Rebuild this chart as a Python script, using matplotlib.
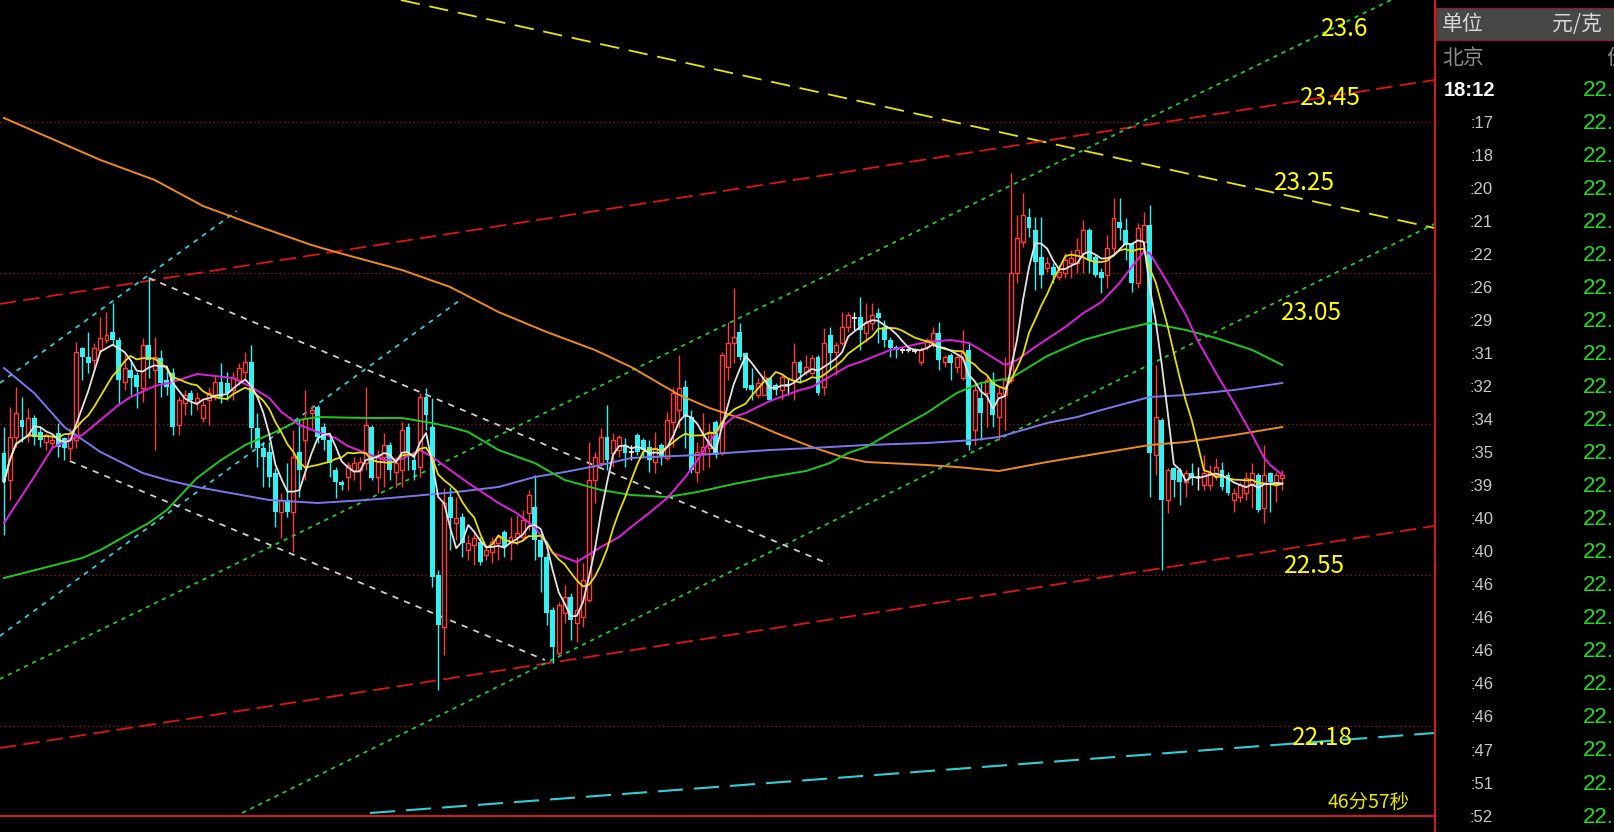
import numpy as np
import pandas as pd
import matplotlib
matplotlib.use("Agg")
import matplotlib.pyplot as plt
from matplotlib.patches import Rectangle
from matplotlib.lines import Line2D

plt.rcParams['font.family'] = ['Noto Sans CJK SC', 'DejaVu Sans']
plt.rcParams['lines.scale_dashes'] = False

# ---------------- candle data (price, yuan/gram) ----------------
opens = [
    22.894, 22.840, 22.926, 22.960, 22.930, 22.964, 22.936, 22.916, 22.914, 22.934,
    22.924, 22.904, 22.920, 23.104, 23.086, 23.080, 23.100, 23.120, 23.136, 23.120,
    23.036, 23.060, 23.050, 23.024, 23.110, 23.060, 23.084, 23.040, 23.054, 22.950,
    22.994, 23.014, 22.996, 22.964, 23.000, 23.006, 23.036, 23.034, 23.020, 23.040,
    23.056, 23.076, 22.944, 22.904, 22.896, 22.854, 22.776, 22.800, 22.776, 22.896,
    22.920, 22.974, 22.986, 22.946, 22.920, 22.860, 22.836, 22.846, 22.860, 22.860,
    22.874, 22.946, 22.846, 22.886, 22.910, 22.856, 22.860, 22.946, 22.880, 22.866,
    23.006, 22.946, 22.650, 22.546, 22.806, 22.754, 22.766, 22.700, 22.710, 22.716,
    22.690, 22.696, 22.714, 22.736, 22.714, 22.726, 22.726, 22.774, 22.786, 22.720,
    22.686, 22.580, 22.494, 22.574, 22.606, 22.554, 22.566, 22.600, 22.840, 22.874,
    22.926, 22.894, 22.900, 22.910, 22.896, 22.930, 22.920, 22.906, 22.876, 22.910,
    22.884, 22.956, 22.980, 23.026, 22.966, 22.856, 22.894, 22.904, 22.956, 22.894,
    23.066, 23.114, 23.136, 23.094, 23.030, 23.010, 23.010, 23.044, 23.030, 23.020,
    23.030, 23.040, 23.076, 23.056, 23.054, 23.086, 23.026, 23.130, 23.096, 23.114,
    23.146, 23.164, 23.166, 23.134, 23.154, 23.174, 23.146, 23.120, 23.106, 23.100,
    23.100, 23.098, 23.076, 23.106, 23.114, 23.134, 23.076, 23.090, 23.066, 23.044,
    23.100, 22.940, 23.004, 23.014, 23.040, 22.966, 23.010, 23.040, 23.254, 23.316,
    23.366, 23.340, 23.286, 23.264, 23.266, 23.246, 23.254, 23.274, 23.274, 23.294,
    23.340, 23.286, 23.256, 23.250, 23.304, 23.356, 23.340, 23.314, 23.234, 23.316,
    23.350, 22.890, 22.960, 22.800, 22.864, 22.860, 22.836, 22.854, 22.846, 22.830,
    22.830, 22.850, 22.860, 22.850, 22.800, 22.806, 22.814, 22.830, 22.850, 22.784,
    22.854, 22.830, 22.844]
highs = [
    22.946, 22.986, 23.026, 23.006, 22.984, 22.970, 22.946, 22.934, 22.926, 22.954,
    22.926, 22.944, 23.116, 23.106, 23.136, 23.114, 23.166, 23.176, 23.194, 23.126,
    23.090, 23.080, 23.056, 23.124, 23.244, 23.126, 23.100, 23.064, 23.064, 23.006,
    23.020, 23.020, 23.016, 23.000, 23.026, 23.050, 23.074, 23.056, 23.056, 23.074,
    23.096, 23.110, 22.974, 22.916, 22.916, 22.864, 22.814, 22.874, 22.940, 22.960,
    23.020, 22.990, 22.990, 22.954, 22.934, 22.866, 22.840, 22.876, 22.886, 22.886,
    23.026, 22.950, 22.900, 22.934, 22.916, 22.886, 22.956, 22.954, 22.894, 23.014,
    23.024, 23.004, 22.660, 22.824, 22.826, 22.806, 22.774, 22.730, 22.740, 22.726,
    22.710, 22.726, 22.730, 22.740, 22.766, 22.770, 22.780, 22.820, 22.850, 22.734,
    22.694, 22.586, 22.596, 22.630, 22.614, 22.686, 22.674, 22.916, 22.896, 22.944,
    22.990, 22.934, 22.930, 22.924, 22.910, 22.934, 22.924, 22.920, 22.936, 22.914,
    22.976, 23.026, 23.090, 23.040, 22.980, 22.916, 22.974, 22.954, 22.960, 23.096,
    23.156, 23.224, 23.154, 23.096, 23.064, 23.044, 23.060, 23.046, 23.034, 23.050,
    23.044, 23.114, 23.080, 23.090, 23.090, 23.090, 23.144, 23.146, 23.116, 23.176,
    23.176, 23.176, 23.206, 23.194, 23.194, 23.184, 23.160, 23.126, 23.110, 23.106,
    23.104, 23.104, 23.106, 23.124, 23.146, 23.156, 23.090, 23.094, 23.090, 23.140,
    23.116, 23.034, 23.034, 23.050, 23.056, 23.026, 23.086, 23.454, 23.370, 23.414,
    23.384, 23.366, 23.366, 23.286, 23.274, 23.270, 23.294, 23.300, 23.324, 23.360,
    23.344, 23.290, 23.264, 23.330, 23.404, 23.404, 23.364, 23.316, 23.354, 23.376,
    23.390, 23.070, 22.964, 22.864, 22.866, 22.864, 22.860, 22.874, 22.866, 22.890,
    22.870, 22.884, 22.876, 22.856, 22.824, 22.836, 22.856, 22.874, 22.854, 22.910,
    22.856, 22.856, 22.860]
lows = [
    22.730, 22.800, 22.906, 22.916, 22.916, 22.910, 22.906, 22.900, 22.906, 22.886,
    22.880, 22.880, 22.904, 23.040, 23.054, 23.060, 23.094, 23.114, 23.110, 22.994,
    23.020, 23.010, 22.984, 22.996, 23.044, 22.900, 23.006, 23.010, 22.930, 22.930,
    22.970, 22.970, 22.980, 22.956, 22.950, 23.000, 22.994, 23.000, 23.000, 23.030,
    23.040, 22.904, 22.866, 22.826, 22.826, 22.746, 22.724, 22.766, 22.696, 22.806,
    22.840, 22.940, 22.914, 22.900, 22.846, 22.804, 22.820, 22.820, 22.840, 22.820,
    22.860, 22.840, 22.814, 22.826, 22.840, 22.826, 22.826, 22.860, 22.840, 22.846,
    22.940, 22.626, 22.420, 22.490, 22.700, 22.720, 22.686, 22.680, 22.670, 22.670,
    22.680, 22.674, 22.680, 22.686, 22.680, 22.710, 22.720, 22.740, 22.680, 22.616,
    22.550, 22.474, 22.490, 22.554, 22.520, 22.516, 22.546, 22.596, 22.794, 22.866,
    22.860, 22.866, 22.886, 22.866, 22.880, 22.890, 22.886, 22.856, 22.854, 22.870,
    22.880, 22.906, 22.944, 22.904, 22.854, 22.836, 22.860, 22.866, 22.884, 22.890,
    23.040, 23.074, 23.080, 23.020, 23.000, 23.004, 23.010, 23.000, 23.010, 23.000,
    23.010, 23.000, 23.034, 23.050, 23.050, 23.010, 23.010, 23.060, 23.050, 23.110,
    23.136, 23.140, 23.100, 23.116, 23.140, 23.114, 23.106, 23.086, 23.084, 23.094,
    23.096, 23.094, 23.070, 23.100, 23.106, 23.060, 23.066, 23.040, 23.054, 23.040,
    22.900, 22.910, 22.920, 22.946, 22.946, 22.920, 22.940, 23.034, 23.234, 23.306,
    23.326, 23.220, 23.224, 23.256, 23.234, 23.240, 23.244, 23.244, 23.254, 23.254,
    23.254, 23.246, 23.214, 23.224, 23.290, 23.320, 23.280, 23.216, 23.224, 23.304,
    22.806, 22.850, 22.660, 22.774, 22.806, 22.790, 22.806, 22.830, 22.820, 22.820,
    22.820, 22.840, 22.820, 22.810, 22.776, 22.796, 22.800, 22.784, 22.776, 22.754,
    22.776, 22.796, 22.820]
closes = [
    22.836, 22.926, 22.974, 22.946, 22.964, 22.926, 22.920, 22.930, 22.920, 22.906,
    22.904, 22.934, 23.096, 23.086, 23.074, 23.104, 23.124, 23.130, 23.120, 23.040,
    23.064, 23.044, 23.026, 23.110, 23.080, 23.086, 23.034, 23.026, 22.946, 23.000,
    23.010, 23.000, 23.004, 22.990, 23.014, 23.036, 23.006, 23.014, 23.044, 23.064,
    23.076, 22.944, 22.904, 22.886, 22.846, 22.776, 22.800, 22.776, 22.886, 22.860,
    22.964, 22.980, 22.926, 22.920, 22.874, 22.836, 22.830, 22.870, 22.874, 22.876,
    22.950, 22.844, 22.890, 22.910, 22.860, 22.874, 22.940, 22.894, 22.860, 23.006,
    22.970, 22.646, 22.550, 22.794, 22.764, 22.764, 22.714, 22.714, 22.724, 22.676,
    22.700, 22.716, 22.726, 22.706, 22.726, 22.734, 22.760, 22.810, 22.720, 22.686,
    22.574, 22.506, 22.590, 22.606, 22.560, 22.580, 22.640, 22.840, 22.886, 22.926,
    22.880, 22.920, 22.926, 22.894, 22.896, 22.896, 22.900, 22.880, 22.904, 22.886,
    22.960, 23.014, 23.024, 22.966, 22.860, 22.896, 22.906, 22.934, 22.890, 23.090,
    23.114, 23.126, 23.086, 23.024, 23.020, 23.034, 23.046, 23.000, 23.020, 23.046,
    23.030, 23.076, 23.054, 23.066, 23.084, 23.014, 23.114, 23.094, 23.110, 23.146,
    23.170, 23.164, 23.140, 23.154, 23.170, 23.164, 23.120, 23.104, 23.100, 23.100,
    23.100, 23.098, 23.100, 23.120, 23.134, 23.080, 23.086, 23.074, 23.086, 23.096,
    22.910, 23.020, 22.974, 23.040, 22.970, 23.014, 23.040, 23.254, 23.324, 23.370,
    23.344, 23.276, 23.250, 23.274, 23.250, 23.256, 23.280, 23.284, 23.300, 23.340,
    23.280, 23.250, 23.244, 23.304, 23.364, 23.344, 23.310, 23.234, 23.344, 23.350,
    22.894, 22.966, 22.800, 22.860, 22.840, 22.836, 22.854, 22.844, 22.846, 22.854,
    22.854, 22.866, 22.826, 22.814, 22.814, 22.830, 22.844, 22.854, 22.780, 22.850,
    22.836, 22.850, 22.850]

# ---------------- longer moving averages (bar index, price) ----------------
ma20_idx = [0, 5, 8, 10, 13, 16, 19, 21, 25, 28, 32, 35, 38, 41, 44, 46, 49, 52, 55, 57,
            60, 63, 66, 69, 71, 74, 77, 82, 85, 88, 91, 95, 99, 102, 104, 107, 110, 113, 115, 118,
            121, 123, 127, 132, 134, 140, 142, 147, 153, 157, 160, 162, 166, 168, 171, 174, 176, 179, 182, 185,
            187, 189, 190, 193, 196, 198, 201, 204, 207, 209, 210, 212]
ma20_val = [22.754, 22.846, 22.904, 22.916, 22.930, 22.960, 22.990, 23.006, 23.028, 23.036,
            23.052, 23.048, 23.044, 23.026, 23.004, 22.976, 22.950, 22.936, 22.924, 22.908,
            22.894, 22.880, 22.882, 22.900, 22.886, 22.860, 22.834, 22.794, 22.774, 22.746,
            22.694, 22.676, 22.706, 22.726, 22.746, 22.774, 22.804, 22.846, 22.880, 22.934,
            22.966, 22.974, 22.998, 23.020, 23.026, 23.068, 23.076, 23.100, 23.116, 23.120,
            23.114, 23.100, 23.070, 23.080, 23.106, 23.130, 23.146, 23.174, 23.196, 23.234,
            23.266, 23.296, 23.294, 23.234, 23.170, 23.118, 23.054, 22.994, 22.930, 22.884,
            22.870, 22.850]
ma60_idx = [0, 13, 16, 21, 24, 27, 32, 36, 40, 45, 49, 52, 60, 66, 71, 74, 77, 82, 88, 93,
            99, 104, 110, 115, 121, 127, 133, 137, 140, 143, 147, 153, 158, 162, 167, 173, 179, 185, 190, 196,
            201, 207, 212]
ma60_val = [22.644, 22.684, 22.700, 22.734, 22.754, 22.780, 22.844, 22.880, 22.910, 22.936,
            22.960, 22.966, 22.964, 22.964, 22.954, 22.946, 22.936, 22.900, 22.874, 22.840,
            22.820, 22.810, 22.806, 22.816, 22.832, 22.846, 22.858, 22.874, 22.894, 22.906,
            22.934, 22.974, 23.014, 23.034, 23.044, 23.088, 23.120, 23.140, 23.154, 23.140,
            23.124, 23.100, 23.070]
ma120_idx = [0, 5, 10, 16, 23, 27, 32, 44, 52, 60, 66, 75, 82, 88, 93, 99, 104, 115, 127, 134,
             143, 153, 161, 165, 173, 178, 182, 190, 196, 204, 212]
ma120_val = [23.064, 23.014, 22.946, 22.896, 22.854, 22.840, 22.826, 22.800, 22.794, 22.800,
             22.806, 22.816, 22.826, 22.846, 22.856, 22.870, 22.884, 22.890, 22.900, 22.904,
             22.910, 22.914, 22.920, 22.926, 22.954, 22.966, 22.980, 23.006, 23.010, 23.020,
             23.034]
ma250_idx = [0, 8, 16, 25, 33, 42, 51, 55, 66, 74, 82, 90, 98, 104, 112, 117, 123, 128, 134, 139,
             143, 153, 158, 165, 173, 182, 190, 196, 204, 212]
ma250_val = [23.564, 23.522, 23.480, 23.440, 23.388, 23.348, 23.310, 23.296, 23.260, 23.226,
             23.176, 23.136, 23.100, 23.066, 23.010, 22.984, 22.960, 22.934, 22.906, 22.886,
             22.876, 22.870, 22.866, 22.858, 22.876, 22.894, 22.910, 22.916, 22.930, 22.946]

# ---------------- hand-drawn trend lines (bar index, price) ----------------
yellow_line = [(65.8, 23.800), (237.2, 23.344)]
red_upper_line = [(-0.7, 23.192), (237.2, 23.640)]
red_lower_line = [(-0.7, 22.304), (237.2, 22.748)]
cyan_bottom_line = [(60.7, 22.174), (237.2, 22.334)]
green_upper_line = [(-0.7, 22.442), (230.0, 23.800)]
green_lower_line = [(39.5, 22.174), (237.2, 23.352)]
cyan_upper_line = [(-0.7, 23.034), (38.6, 23.378)]
cyan_lower_line = [(-0.7, 22.528), (76.1, 23.204)]
white_upper_line = [(24.0, 23.244), (136.8, 22.672)]
white_lower_line = [(10.9, 22.878), (89.7, 22.480)]

grid_levels = [23.557, 23.255, 22.952, 22.650, 22.348]
level_labels = ["23.6", "23.45", "23.25", "23.05", "22.55", "22.18"]
countdown_text = "46分57秒"

# right-hand time & sales panel
tick_times = ["18:12", ":17", ":18", ":20", ":21", ":22", ":26", ":29", ":31", ":32", ":34", ":35",
              ":39", ":40", ":40", ":46", ":46", ":46", ":46", ":46", ":47", ":51", ":52"]
tick_prices = [22.75, 22.74, 22.74, 22.69, 22.74, 22.73, 22.74, 22.73, 22.73, 22.72, 22.72, 22.71,
               22.72, 22.72, 22.71, 22.72, 22.72, 22.71, 22.72, 22.72, 22.71, 22.72, 22.72]

# ---------------- styling ----------------
W, H = 1614, 832
RED = '#ff3c3c'
CYAN = '#30f2f2'
WHITE = '#f4f4f4'
BORDER = '#c81e1e'

def fx(px):
    return px / W

def fy(py):
    return 1 - py / H

fig = plt.figure(figsize=(W / 100, H / 100), dpi=100, facecolor='black')
ax = fig.add_axes([0, fy(816), fx(1434), 816 / H])
ax.set_facecolor('black')
ax.set_xlim(-0.66, 237.15)
ax.set_ylim(22.168, 23.8)
for s in ax.spines.values():
    s.set_visible(False)
ax.set_xticks([])
ax.set_yticks([])

# grid levels
for g in grid_levels:
    ax.axhline(g, color='#a01010', lw=0.9, linestyle=(0, (1, 2)), zorder=1)

# trend lines
def tline(pts, color, dash, lw=1.3):
    xs = [p[0] for p in pts]
    ys = [p[1] for p in pts]
    ax.plot(xs, ys, color=color, lw=lw, linestyle=(0, dash), zorder=2)

tline(yellow_line, '#e8e800', (14, 7))
tline(red_upper_line, '#e01414', (12, 5))
tline(red_lower_line, '#e01414', (12, 5))
tline(cyan_bottom_line, '#30d0d8', (18, 8), lw=1.5)
tline(green_upper_line, '#22d022', (3, 3.5))
tline(green_lower_line, '#22d022', (3, 3.5))
tline(cyan_upper_line, '#30d0e0', (3.5, 4))
tline(cyan_lower_line, '#30d0e0', (3.5, 4))
tline(white_upper_line, '#d0d0d0', (4.5, 4.5))
tline(white_lower_line, '#d0d0d0', (4.5, 4.5))

# candles
o = np.array(opens); h = np.array(highs); l = np.array(lows); c = np.array(closes)
x = np.arange(len(c))
up = c > o
dn = c < o
eq = c == o
wick_colors = np.where(up, RED, np.where(dn, CYAN, WHITE))
ax.vlines(x, l, h, colors=wick_colors, lw=1.0, zorder=3)
ax.bar(x[up], (c - o)[up], bottom=o[up], width=0.66, facecolor='black',
       edgecolor=RED, linewidth=1.0, zorder=4)
ax.bar(x[dn], (o - c)[dn], bottom=c[dn], width=0.8, color=CYAN, linewidth=0, zorder=4)
ax.hlines(c[eq], x[eq] - 0.4, x[eq] + 0.4, colors=WHITE, lw=1.2, zorder=4)

# moving averages
ma5 = pd.Series(closes).rolling(5, min_periods=1).mean()
ma10 = pd.Series(closes).rolling(10, min_periods=1).mean()
ax.plot(ma250_idx, ma250_val, color='#f08a1e', lw=1.4, zorder=5)
ax.plot(ma120_idx, ma120_val, color='#7a78f0', lw=1.4, zorder=5)
ax.plot(ma60_idx, ma60_val, color='#1ec81e', lw=1.4, zorder=5)
ax.plot(ma20_idx, ma20_val, color='#e020e0', lw=1.4, zorder=5)
ax.plot(x, ma10, color='#e8e000', lw=1.3, zorder=6)
ax.plot(x, ma5, color='#e4e4e4', lw=1.3, zorder=7)

# level labels
label_pos = [(1321, 29), (1300, 98), (1274, 183), (1281, 313), (1284, 566), (1292, 738)]
for txt, (px, py) in zip(level_labels, label_pos):
    fig.text(fx(px), fy(py), txt, color='#ffff00', fontsize=17.5, ha='left', va='center',
             family=['Noto Sans CJK SC', 'DejaVu Sans'])
fig.text(fx(1328), fy(802), countdown_text, color='#e6e600', fontsize=14,
         ha='left', va='center', family=['Noto Sans CJK SC', 'DejaVu Sans'])

# frame lines
fig.add_artist(Line2D([0, fx(1434)], [fy(816), fy(816)], color=BORDER, lw=1.6))
fig.add_artist(Line2D([fx(1434.5), fx(1434.5)], [0, 1], color=BORDER, lw=1.6))

# right panel header
fig.add_artist(Rectangle((fx(1436), fy(40)), fx(178), 32 / H, facecolor='#474747',
                         edgecolor='#7a2626', lw=1.0))
fig.text(fx(1442), fy(24), "单位", color='#d8d8d8', fontsize=15, ha='left', va='center')
fig.text(fx(1552), fy(24), "元/克", color='#d8d8d8', fontsize=15, ha='left', va='center')
fig.text(fx(1442), fy(58), "北京", color='#8c8c8c', fontsize=15, ha='left', va='center')
fig.text(fx(1606), fy(58), "价", color='#8c8c8c', fontsize=15, ha='left', va='center')

row_y0, row_step = 90, 33.05
for k, (t, p) in enumerate(zip(tick_times, tick_prices)):
    yy = fy(row_y0 + k * row_step)
    if k == 0:
        fig.text(fx(1495), yy, t, color='#f4f4f4', fontsize=14.5, fontweight='bold',
                 ha='right', va='center', family='Liberation Sans')
    else:
        fig.text(fx(1493), yy, t, color='#c8c8c8', fontsize=12, ha='right', va='center',
                 family='Liberation Sans')
    fig.text(fx(1583), yy, f"{p:.2f}", color='#22dd22', fontsize=16, ha='left', va='center',
             family='Liberation Sans')

fig.savefig('out.png', dpi=100, facecolor='black')
